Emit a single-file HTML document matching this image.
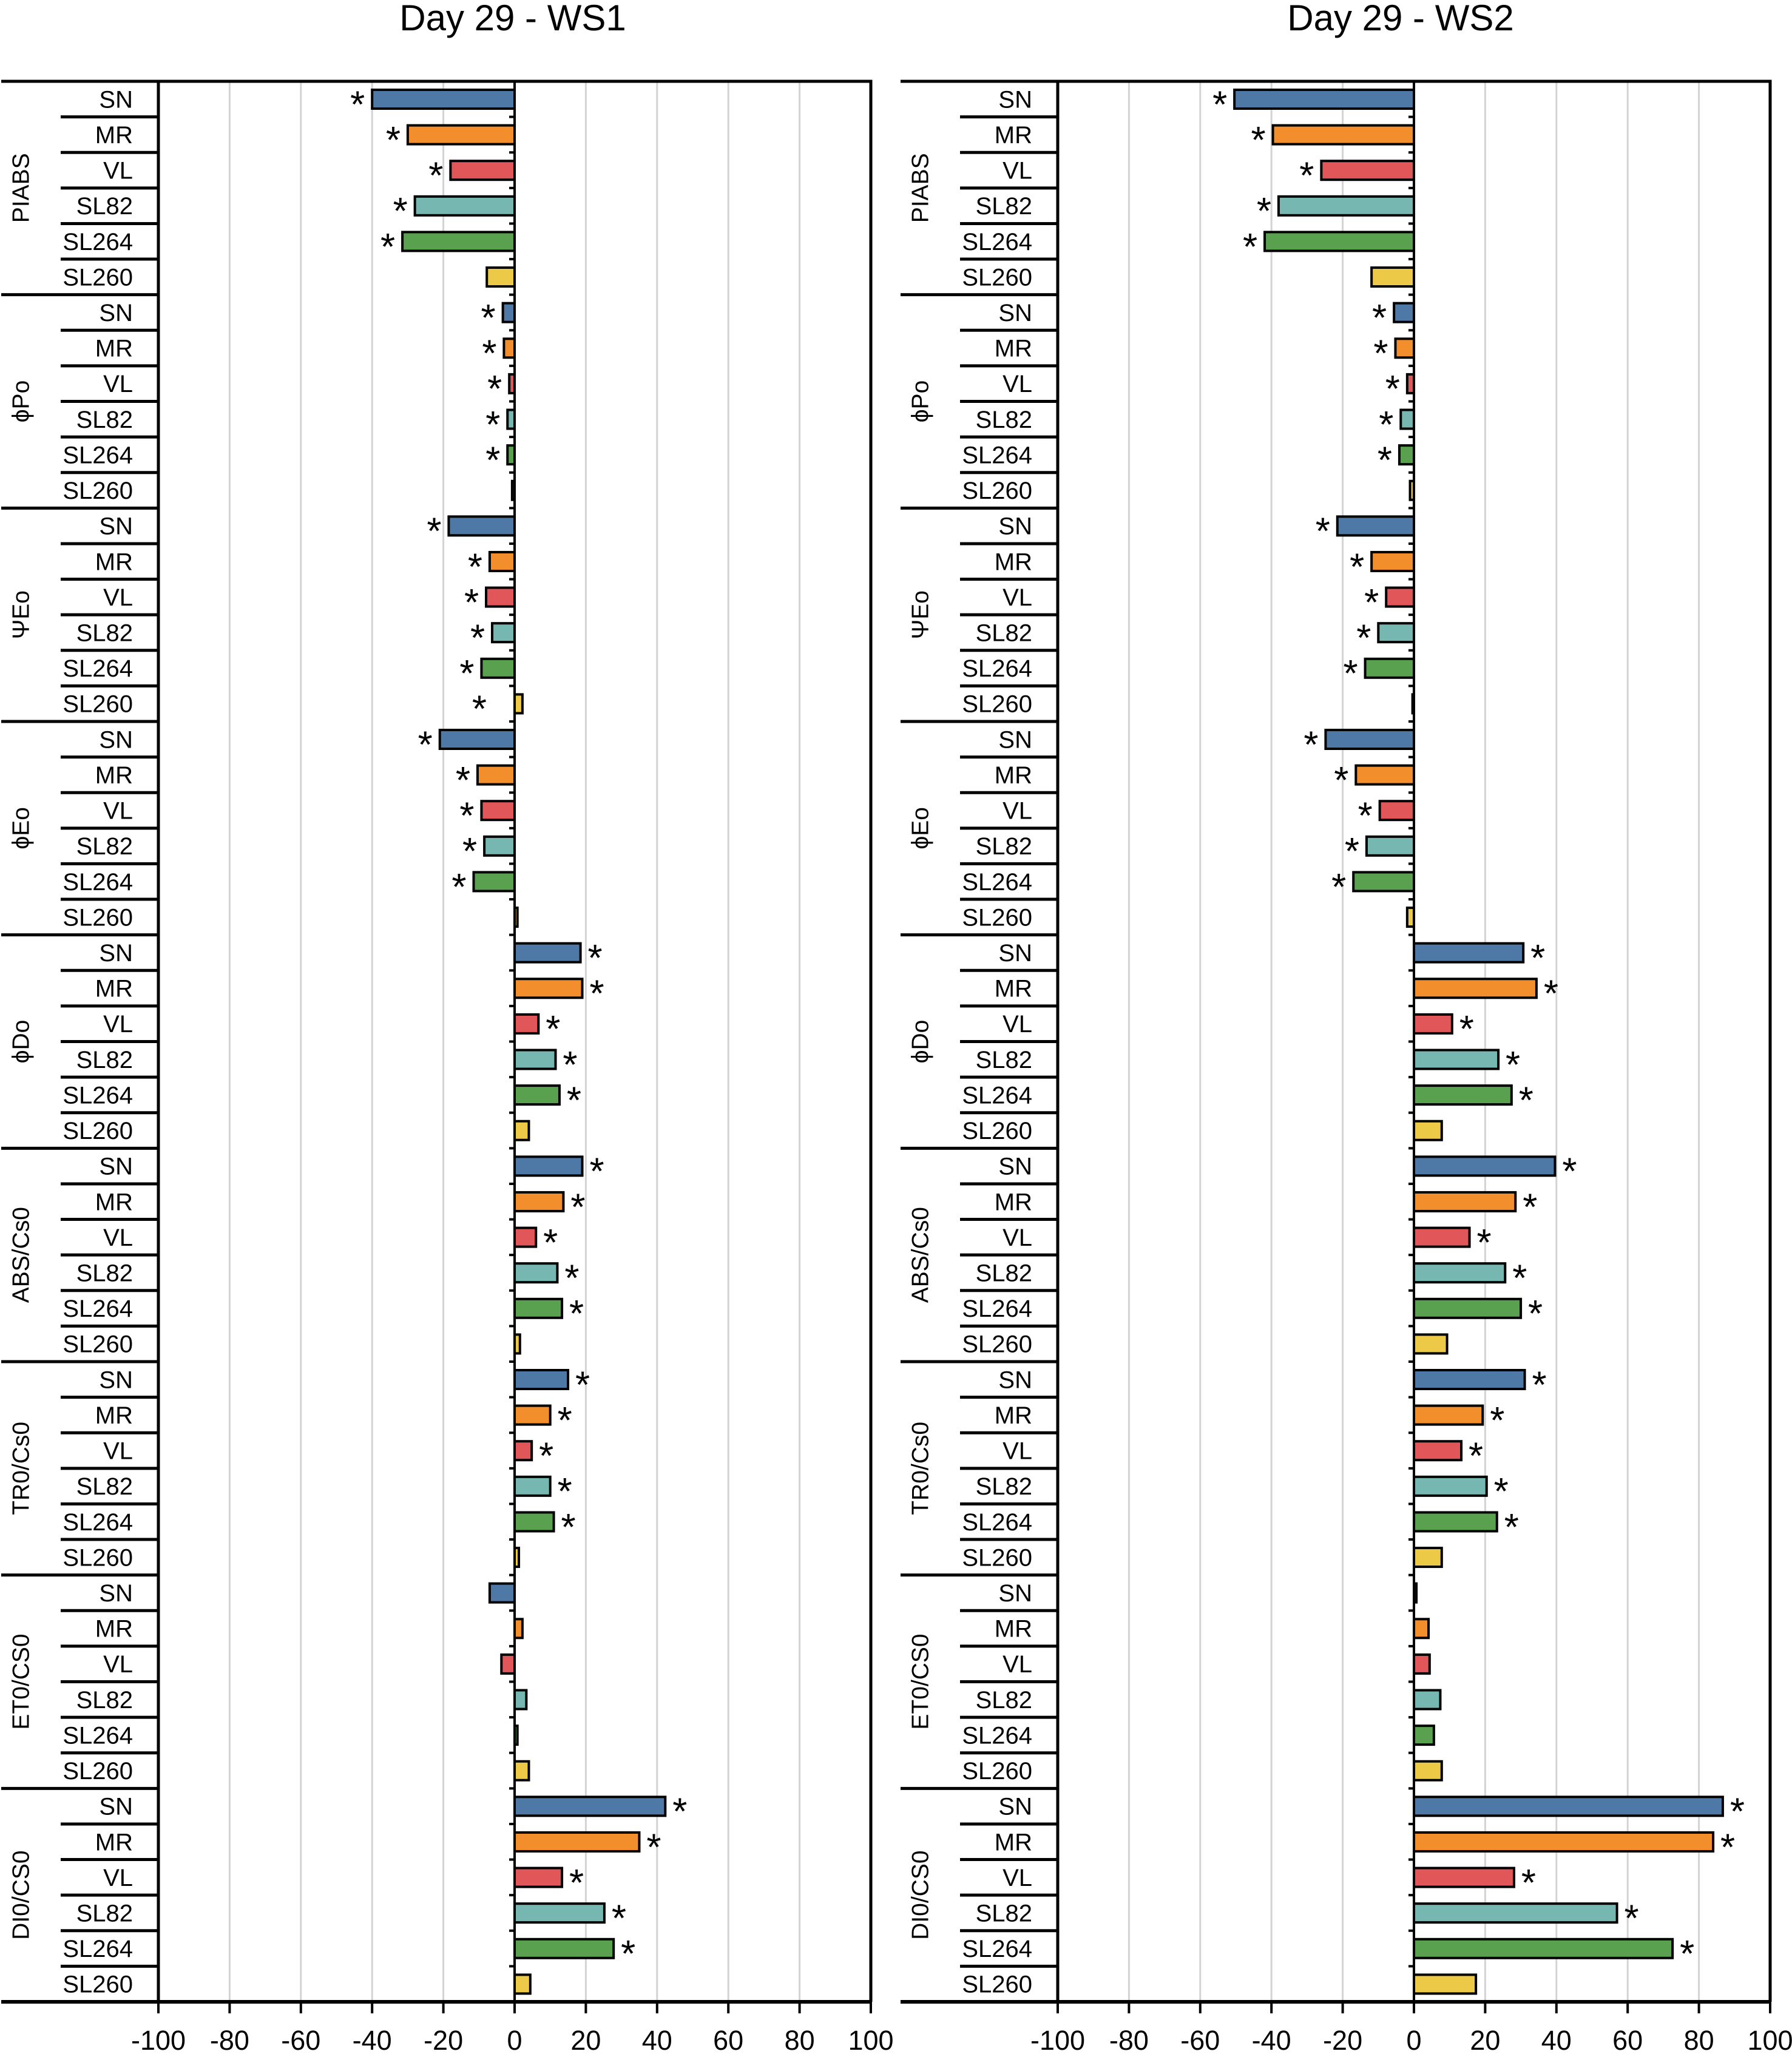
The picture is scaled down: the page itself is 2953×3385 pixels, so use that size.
<!DOCTYPE html>
<html><head><meta charset="utf-8"><style>
html,body{margin:0;padding:0;background:#fff;}
svg{display:block;font-family:"Liberation Sans",sans-serif;}
</style></head>
<body>
<svg id="chart" width="2953" height="3385" viewBox="0 0 2953 3385" xmlns="http://www.w3.org/2000/svg"></svg>
<script>
const groups = ["PIABS","ϕPo","ΨEo","ϕEo","ϕDo","ABS/Cs0","TR0/Cs0","ET0/CS0","DI0/CS0"];
const varieties = ["SN","MR","VL","SL82","SL264","SL260"];
const colors = ["#4e79a7","#f28e2b","#e15759","#76b7b2","#59a14f","#edc948"];
const ticks = [-100,-80,-60,-40,-20,0,20,40,60,80,100];
const ws1Values = [
 -40,-30,-18,-28,-31.5,-7.8,
 -3.3,-3,-1.5,-2,-2,-0.7,
 -18.5,-7,-8,-6.3,-9.3,2.2,
 -21,-10.4,-9.3,-8.5,-11.5,0.8,
 18.5,19,6.7,11.5,12.6,4,
 19,13.7,6,12,13.3,1.5,
 15,10,4.8,10,11,1.2,
 -7,2.2,-3.7,3.3,0.8,4,
 42.3,35,13.3,25.2,27.8,4.4];
const ws1Stars = [
 1,1,1,1,1,0, 1,1,1,1,1,0, 1,1,1,1,1,-1, 1,1,1,1,1,0, 1,1,1,1,1,0,
 1,1,1,1,1,0, 1,1,1,1,1,0, 0,0,0,0,0,0, 1,1,1,1,1,0];
const ws2Values = [
 -50.4,-39.6,-26,-38,-41.9,-11.9,
 -5.6,-5.2,-1.9,-3.7,-4.1,-1.1,
 -21.5,-11.9,-7.8,-10,-13.7,-0.4,
 -24.8,-16.3,-9.6,-13.3,-17,-1.9,
 30.7,34.4,10.7,23.7,27.4,7.8,
 39.6,28.5,15.6,25.6,30,9.3,
 31.1,19.3,13.3,20.4,23.3,7.8,
 0.7,4.1,4.4,7.4,5.6,7.8,
 86.7,84,28.1,57,72.6,17.4];
const ws2Stars = [
 1,1,1,1,1,0, 1,1,1,1,1,0, 1,1,1,1,1,0, 1,1,1,1,1,0, 1,1,1,1,1,0,
 1,1,1,1,1,0, 1,1,1,1,1,0, 0,0,0,0,0,0, 1,1,1,1,1,0];

const NS="http://www.w3.org/2000/svg";
const svg=document.getElementById('chart');
function mk(tag,attrs,parent,text){const e=document.createElementNS(NS,tag);for(const k in attrs)e.setAttribute(k,attrs[k]);if(text!==undefined)e.textContent=text;(parent||svg).appendChild(e);return e;}

const TOP=134,BOT=3299,NROWS=groups.length*varieties.length,ROWH=(BOT-TOP)/NROWS;

function panel(title,titleX,outerX,innerX,left,right,values,stars,key){
  const g=mk('g',{});
  
  
  const xs=v=>left+(v+100)/200*(right-left);
  const zero=xs(0);
  const t=mk('text',{x:titleX,y:50,'font-size':60,'text-anchor':'middle',fill:'#000'},g,title);
  
  
  ticks.forEach(v=>{ if(v===-100||v===0||v===100) return;
    const l=mk('line',{x1:xs(v),x2:xs(v),y1:TOP,y2:BOT,stroke:'#d3d3d3','stroke-width':3},g);
    
    
  });
  for(let r=0;r<=NROWS;r++){
    const y=TOP+r*ROWH;
    const x1=(r%6===0)?outerX:innerX;
    const l=mk('line',{x1:x1,x2:left,y1:y,y2:y,stroke:'#000','stroke-width':5},g);
    
    
    const tk=mk('line',{x1:zero-9,x2:zero,y1:y,y2:y,stroke:'#000','stroke-width':4},g);
    
    
  }
  groups.forEach((gn,gi)=>{
    const cy=TOP+(gi*6+3)*ROWH;
    const cx=outerX+33;
    const tx=mk('text',{x:cx,y:cy,'font-size':39,'text-anchor':'middle','dominant-baseline':'central',transform:`rotate(-90 ${cx} ${cy})`,fill:'#000'},g,gn);
    
    
  });
  for(let i=0;i<NROWS;i++){
    const vi=i%6;
    const rowTop=TOP+i*ROWH;
    const lb=mk('text',{x:left-42,y:rowTop+ROWH/2+1,'font-size':40,'text-anchor':'end','dominant-baseline':'central',fill:'#000'},g,varieties[vi]);
    
    
    const v=values[i];
    const x0=Math.min(xs(v),zero),w=Math.abs(xs(v)-zero);
    const b=mk('rect',{x:x0,y:rowTop+14,width:Math.max(w,1),height:31,fill:colors[vi],stroke:'#000','stroke-width':4},g);
    
    
    const s=stars[i];
    if(s!==0){
      let sx;
      if(s===-1) sx=zero-58;
      else sx=v<0?xs(v)-24:xs(v)+24;
      const st=mk('text',{x:sx,y:rowTop+ROWH/2+30,'font-size':62,'text-anchor':'middle',fill:'#000'},g,'*');
      
      
    }
  }
  const fr=mk('path',{d:`M${left},${BOT} L${left},${TOP} L${right},${TOP} L${right},${BOT}`,fill:'none',stroke:'#000','stroke-width':5},g);
  
  
  const zl=mk('line',{x1:zero,x2:zero,y1:TOP,y2:BOT,stroke:'#000','stroke-width':4},g);
  
  
  const ax=mk('line',{x1:outerX,x2:right+2,y1:BOT,y2:BOT,stroke:'#000','stroke-width':6},g);
  
  
  ticks.forEach(v=>{
    const tk=mk('line',{x1:xs(v),x2:xs(v),y1:BOT,y2:BOT+19,stroke:'#000','stroke-width':4},g);
    
    
    const tl=mk('text',{x:xs(v),y:3378,'font-size':45,'text-anchor':'middle',fill:'#000'},g,String(v));
    
    
  });
}
panel('Day 29 - WS1',845,2,100,261,1435,ws1Values,ws1Stars,'ws1');
panel('Day 29 - WS2',2308,1484,1582,1743,2917,ws2Values,ws2Stars,'ws2');
</script>
</body></html>
